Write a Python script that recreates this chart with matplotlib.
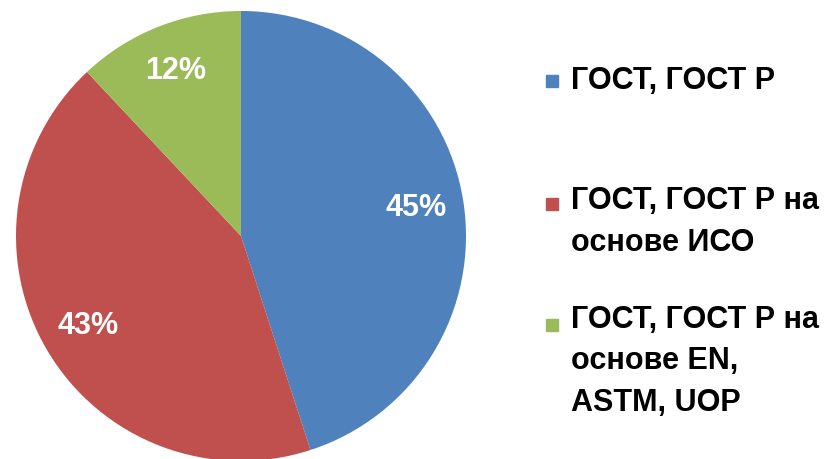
import matplotlib.pyplot as plt
from matplotlib.patches import Rectangle

plt.rcParams['font.family'] = ['Liberation Sans', 'DejaVu Sans']

labels = ['ГОСТ, ГОСТ Р', 'ГОСТ, ГОСТ Р на\nоснове ИСО', 'ГОСТ, ГОСТ Р на\nоснове EN,\nASTM, UOP']
shares = [45, 43, 12]
colors = ['#4F81BD', '#C0504D', '#9BBB59']

W, H = 834, 459
fig = plt.figure(figsize=(W / 100, H / 100), dpi=100)

# pie axes: centre (241, 236) px, radius 225 px
cx, cy, r = 241, 236, 225
ax = fig.add_axes([(cx - r) / W, (H - cy - r) / H, 2 * r / W, 2 * r / H])
wedges, texts, autotexts = ax.pie(shares, colors=colors, startangle=90, counterclock=False,
                                  autopct='%1.0f%%', pctdistance=0.79, radius=1.0,
                                  textprops=dict(color='white', fontsize=22, fontweight='bold'))
ax.set_xlim(-1, 1)
ax.set_ylim(-1, 1)
ax.set_aspect('equal')

# legend drawn by hand so the square lines up with the first text line
first_baselines = [89, 212, 333]
line_step = 39
for lab, col, yb in zip(labels, colors, first_baselines):
    fig.patches.append(Rectangle((546 / W, (H - yb + 2) / H), 12 / W, 12 / H,
                                 transform=fig.transFigure, color=col))
    last = yb + line_step * lab.count('\n')
    fig.text(571 / W, (H - last) / H, lab, fontsize=22, fontweight='bold',
             va='baseline', ha='left', linespacing=1.5)

fig.savefig('out.png', dpi=100)
